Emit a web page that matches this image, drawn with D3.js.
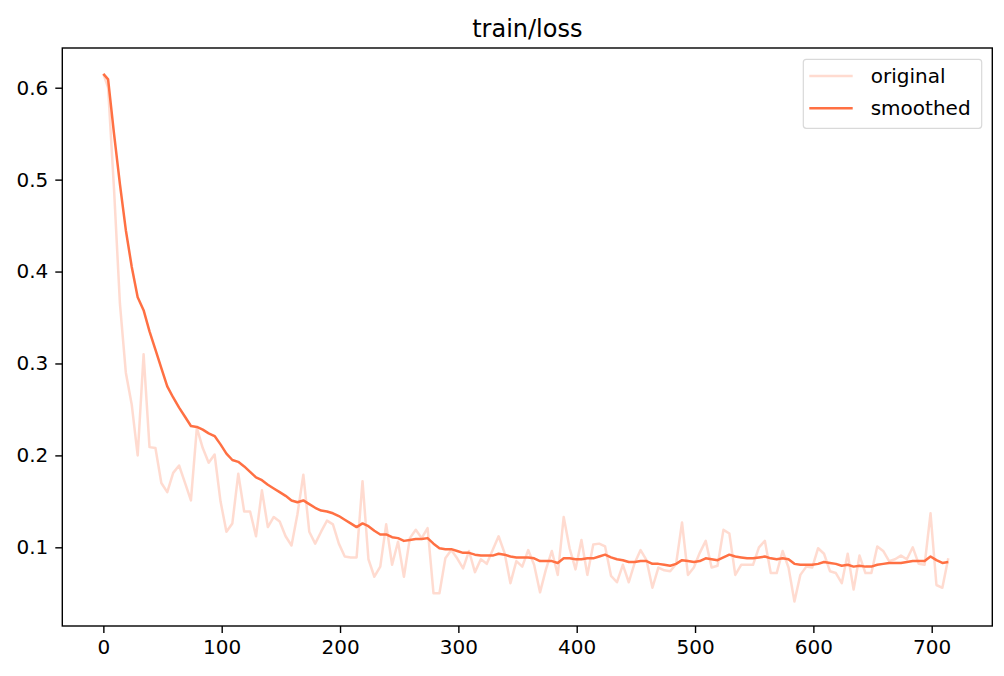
<!DOCTYPE html>
<html>
<head>
<meta charset="utf-8">
<script src="https://cdn.jsdelivr.net/npm/d3@7"></script>
<style>
  html, body { margin: 0; padding: 0; background: #fff; }
  svg text { font-family: "DejaVu Sans", sans-serif; fill: #000; }
</style>
</head>
<body>
<svg id="chart" width="1004" height="676"></svg>
<script>
const title = "train/loss";
const seriesNames = ["original", "smoothed"];
const xTicks = [0, 100, 200, 300, 400, 500, 600, 700];
const yTicks = [0.1, 0.2, 0.3, 0.4, 0.5, 0.6];

const steps = [0, 4, 9, 14, 19, 24, 29, 34, 39, 44, 49, 54, 59, 64, 69, 74, 79, 84, 89, 94,
  99, 104, 109, 114, 119, 124, 129, 134, 139, 144, 149, 154, 159, 164, 169, 174, 179, 184, 189, 194,
  199, 204, 209, 214, 219, 224, 229, 234, 239, 244, 249, 254, 259, 264, 269, 274, 279, 284, 289, 294,
  299, 304, 309, 314, 319, 324, 329, 334, 339, 344, 349, 354, 359, 364, 369, 374, 379, 384, 389, 394,
  399, 404, 409, 414, 419, 424, 429, 434, 439, 444, 449, 454, 459, 464, 469, 474, 479, 484, 489, 494,
  499, 504, 509, 514, 519, 524, 529, 534, 539, 544, 549, 554, 559, 564, 569, 574, 579, 584, 589, 594,
  599, 604, 609, 614, 619, 624, 629, 634, 639, 644, 649, 654, 659, 664, 669, 674, 679, 684, 689, 694,
  699, 704, 709, 714];

const original = [0.615, 0.600, 0.490, 0.365, 0.290, 0.255, 0.200, 0.310, 0.209, 0.208,
  0.170, 0.160, 0.181, 0.189, 0.170, 0.151, 0.230, 0.208, 0.192, 0.201,
  0.150, 0.117, 0.126, 0.180, 0.139, 0.139, 0.112, 0.162, 0.122, 0.133,
  0.128, 0.112, 0.102, 0.136, 0.179, 0.117, 0.104, 0.117, 0.129, 0.125,
  0.104, 0.090, 0.089, 0.089, 0.172, 0.087, 0.068, 0.079, 0.125, 0.081,
  0.106, 0.068, 0.110, 0.119, 0.110, 0.121, 0.050, 0.050, 0.088, 0.097,
  0.088, 0.077, 0.096, 0.073, 0.087, 0.082, 0.097, 0.112, 0.094, 0.061,
  0.085, 0.079, 0.097, 0.081, 0.051, 0.076, 0.096, 0.070, 0.133, 0.099,
  0.076, 0.108, 0.070, 0.103, 0.104, 0.101, 0.069, 0.062, 0.081, 0.062,
  0.083, 0.097, 0.086, 0.056, 0.078, 0.075, 0.074, 0.082, 0.127, 0.070,
  0.078, 0.094, 0.107, 0.078, 0.080, 0.119, 0.115, 0.070, 0.081, 0.081,
  0.081, 0.100, 0.107, 0.072, 0.072, 0.096, 0.078, 0.041, 0.070, 0.079,
  0.078, 0.099, 0.093, 0.074, 0.072, 0.061, 0.093, 0.054, 0.091, 0.072,
  0.072, 0.101, 0.096, 0.085, 0.087, 0.091, 0.087, 0.100, 0.082, 0.081,
  0.137, 0.059, 0.056, 0.088];

const smoothed = [0.615, 0.609, 0.550, 0.495, 0.445, 0.405, 0.372, 0.358, 0.335, 0.315,
  0.295, 0.275, 0.263, 0.252, 0.242, 0.232, 0.231, 0.228, 0.224, 0.221,
  0.212, 0.202, 0.195, 0.193, 0.188, 0.182, 0.176, 0.173, 0.168, 0.164,
  0.160, 0.156, 0.151, 0.149, 0.151, 0.147, 0.143, 0.140, 0.139, 0.137,
  0.134, 0.130, 0.126, 0.122, 0.126, 0.123, 0.118, 0.114, 0.114, 0.111,
  0.110, 0.107, 0.108, 0.109, 0.109, 0.110, 0.104, 0.099, 0.098, 0.098,
  0.096, 0.094, 0.094, 0.092, 0.091, 0.091, 0.091, 0.093, 0.092, 0.090,
  0.089, 0.089, 0.089, 0.088, 0.085, 0.085, 0.085, 0.083, 0.088, 0.088,
  0.087, 0.087, 0.088, 0.088, 0.090, 0.092, 0.089, 0.087, 0.086, 0.084,
  0.084, 0.085, 0.085, 0.082, 0.082, 0.081, 0.080, 0.082, 0.086, 0.085,
  0.084, 0.085, 0.088, 0.087, 0.086, 0.089, 0.092, 0.090, 0.089, 0.088,
  0.088, 0.089, 0.090, 0.088, 0.087, 0.088, 0.087, 0.082, 0.081, 0.081,
  0.081, 0.082, 0.084, 0.083, 0.082, 0.080, 0.081, 0.079, 0.080, 0.079,
  0.079, 0.081, 0.082, 0.083, 0.083, 0.083, 0.084, 0.085, 0.085, 0.085,
  0.090, 0.086, 0.083, 0.084];

const lineColor = "#ff7043";

const svg = d3.select("#chart");
const plot = { left: 62.3, right: 992.3, top: 48, bottom: 626 };

const x = d3.scaleLinear().domain([-34.7, 751.2]).range([plot.left, plot.right]);
const y = d3.scaleLinear().domain([0.0144, 0.6432]).range([plot.bottom, plot.top]);

const line = d3.line().x((d, i) => x(steps[i])).y(d => y(d));

const g = svg.append("g");

g.append("path").datum(original)
  .attr("d", line).attr("fill", "none")
  .attr("stroke", lineColor).attr("stroke-opacity", 0.25)
  .attr("stroke-width", 2.5).attr("stroke-linejoin", "round");

g.append("path").datum(smoothed)
  .attr("d", line).attr("fill", "none")
  .attr("stroke", lineColor)
  .attr("stroke-width", 2.5).attr("stroke-linejoin", "round");

// axes
const xAxis = d3.axisBottom(x).tickValues(xTicks).tickFormat(d3.format("d")).tickSize(7).tickPadding(7);
const yAxis = d3.axisLeft(y).tickValues(yTicks).tickFormat(d3.format(".1f")).tickSize(7).tickPadding(7);

const gx = svg.append("g").attr("transform", `translate(0,${plot.bottom})`).call(xAxis);
const gy = svg.append("g").attr("transform", `translate(${plot.left},0)`).call(yAxis);
[gx, gy].forEach(a => {
  a.select(".domain").remove();
  a.selectAll(".tick line").attr("stroke", "#000").attr("stroke-width", 1.4);
  a.selectAll(".tick text").style("font-family", "DejaVu Sans").style("font-size", "20px").attr("fill", "#000");
});

// spines
svg.append("rect")
  .attr("x", plot.left).attr("y", plot.top)
  .attr("width", plot.right - plot.left).attr("height", plot.bottom - plot.top)
  .attr("fill", "none").attr("stroke", "#000").attr("stroke-width", 1.4);

// title
svg.append("text")
  .attr("x", (plot.left + plot.right) / 2).attr("y", 37)
  .attr("text-anchor", "middle")
  .style("font-size", "24px")
  .text(title);

// legend
const lg = svg.append("g");
lg.append("rect")
  .attr("x", 803.3).attr("y", 59.3).attr("width", 178.4).attr("height", 69)
  .attr("rx", 3).attr("fill", "#fff").attr("fill-opacity", 0.8)
  .attr("stroke", "#d9d9d9").attr("stroke-width", 1.2);
seriesNames.forEach((name, i) => {
  const yy = 76 + i * 32.3;
  lg.append("line").attr("x1", 809.3).attr("x2", 852.7).attr("y1", yy).attr("y2", yy)
    .attr("stroke", lineColor).attr("stroke-width", 2.5)
    .attr("stroke-opacity", i === 0 ? 0.25 : 1);
  lg.append("text").attr("x", 870.7).attr("y", yy).attr("dy", "0.35em")
    .style("font-size", "20px").text(name);
});
</script>
</body>
</html>
